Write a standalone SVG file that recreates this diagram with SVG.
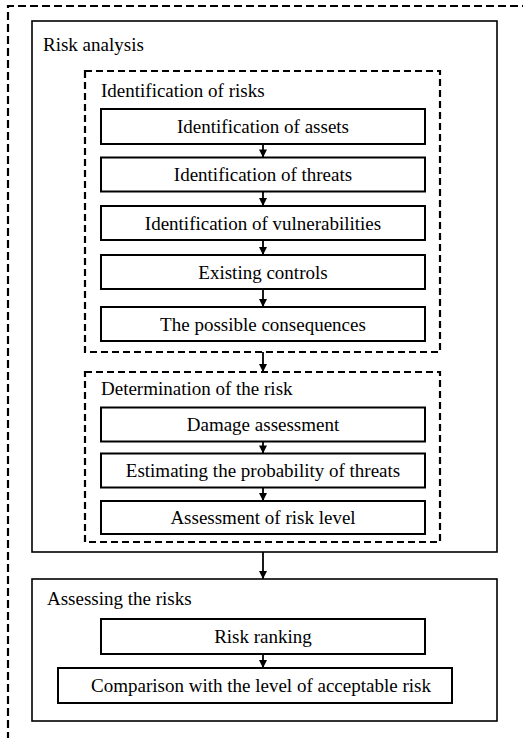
<svg xmlns="http://www.w3.org/2000/svg" width="523" height="738" viewBox="0 0 523 738">
<defs>
<style>
.c{text-anchor:middle}
.box{fill:#fff;stroke:#000;stroke-width:2}
.frame{fill:none;stroke:#000;stroke-width:1.6}
.dash{fill:none;stroke:#000;stroke-width:2.2;stroke-dasharray:7 4}
.outer{fill:none;stroke:#000;stroke-width:2.2;stroke-dasharray:8 4}
.conn{stroke:#000;stroke-width:1.8;fill:none;marker-end:url(#ah)}
</style>
<marker id="ah" viewBox="0 0 10 10" refX="10" refY="5" markerWidth="4.5" markerHeight="4.5" orient="auto" markerUnits="strokeWidth">
<path d="M0,0 L10,5 L0,10 Z" fill="#000"/>
</marker>
</defs>
<rect width="523" height="738" fill="#fff"/>
<g font-family="Liberation Serif, DejaVu Serif, serif" font-size="19" fill="#000">
<g id="outer"><path class="outer" d="M8,740 V6 H525"/></g>
<g id="risk-analysis">
<rect class="frame" x="32" y="21" width="465" height="531"/>
<text x="43" y="51">Risk analysis</text>
</g>
<g id="identification-of-risks">
<rect class="dash" x="85" y="71" width="355" height="281"/>
<text x="101" y="97">Identification of risks</text>
</g>
<g id="n-assets"><rect class="box" x="101" y="109" width="324" height="35"/><text class="c" x="263" y="133">Identification of assets</text></g>
<g id="n-threats"><rect class="box" x="101" y="157.5" width="324" height="34"/><text class="c" x="263" y="181">Identification of threats</text></g>
<g id="n-vuln"><rect class="box" x="101" y="206" width="324" height="34"/><text class="c" x="263" y="229.5">Identification of vulnerabilities</text></g>
<g id="n-controls"><rect class="box" x="101" y="255" width="324" height="34"/><text class="c" x="263" y="278.5">Existing controls</text></g>
<g id="n-consequences"><rect class="box" x="101" y="307" width="324" height="34"/><text class="c" x="263" y="330.5">The possible consequences</text></g>
<g id="determination">
<rect class="dash" x="85" y="372" width="355" height="170"/>
<text x="101" y="395">Determination of the risk</text>
</g>
<g id="n-damage"><rect class="box" x="101" y="407.5" width="324" height="34"/><text class="c" x="263" y="431">Damage assessment</text></g>
<g id="n-probability"><rect class="box" x="101" y="453.5" width="324" height="34"/><text class="c" x="263" y="477">Estimating the probability of threats</text></g>
<g id="n-level"><rect class="box" x="101" y="501" width="324" height="33"/><text class="c" x="263" y="524">Assessment of risk level</text></g>
<g id="assessing">
<rect class="frame" x="32" y="579" width="465" height="142"/>
<text x="47" y="605">Assessing the risks</text>
</g>
<g id="n-ranking"><rect class="box" x="101" y="619" width="324" height="35"/><text class="c" x="263" y="643">Risk ranking</text></g>
<g id="n-comparison"><rect class="box" x="58" y="668" width="394" height="35"/><text class="c" x="261" y="692">Comparison with the level of acceptable risk</text></g>
<g id="connectors">
<line class="conn" x1="263" y1="144" x2="263" y2="157.5"/>
<line class="conn" x1="263" y1="191.5" x2="263" y2="206"/>
<line class="conn" x1="263" y1="240" x2="263" y2="255"/>
<line class="conn" x1="263" y1="289" x2="263" y2="307"/>
<line class="conn" x1="263" y1="352" x2="263" y2="372"/>
<line class="conn" x1="263" y1="441.5" x2="263" y2="453.5"/>
<line class="conn" x1="263" y1="487.5" x2="263" y2="501"/>
<line class="conn" x1="263" y1="552" x2="263" y2="579"/>
<line class="conn" x1="263" y1="654" x2="263" y2="668"/>
</g>
</g>
</svg>
